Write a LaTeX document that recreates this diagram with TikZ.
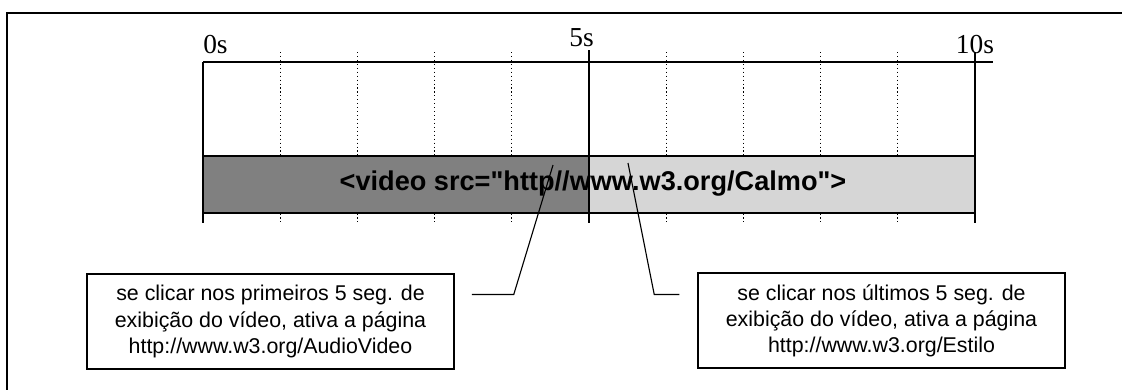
\documentclass[tikz,border=0pt]{standalone}
\usepackage{fontspec}
\setmainfont{Liberation Serif}
\setsansfont{Liberation Sans}[Ligatures=TeXOff]
\usetikzlibrary{positioning,calc}
\definecolor{escuro}{gray}{0.5}
\definecolor{claro}{gray}{0.84}

\begin{document}
\begin{tikzpicture}[x=0.025cm, y=-0.025cm,
    rotulo/.style={font=\fontsize{19.5}{21}\selectfont, inner sep=0pt},
    caixa/.style={draw, line width=1pt, minimum width=9.175cm, minimum height=2.375cm,
                  align=center, font=\sffamily\fontsize{15.2}{18.6}\selectfont},
    grade/.style={dotted, line width=0.8pt},
    marco/.style={line width=1pt},
    chamada/.style={line width=0.8pt}]
  \useasboundingbox (0,0) rectangle (1122,390);
  \draw[line width=1.3pt] (1122,13) -- (7,13) -- (7,390);
  \foreach \k in {1,2,3,4,6,7,8,9} \draw[grade] ({203+77.2*\k},52) -- ({203+77.2*\k},223);
  \fill[escuro] (203,156) rectangle (589,213);
  \fill[claro] (589,156) rectangle (975,213);
  \draw[marco] (203,62) -- (993,62);
  \draw[marco] (203,156) -- (975,156);
  \draw[marco] (203,213) -- (975,213);
  \draw[marco] (203,62) -- (203,223);
  \draw[marco] (589,50) -- (589,223);
  \draw[marco] (975,52) -- (975,223);
  \node[rotulo, anchor=base west] (t0) at (203,53) {0s};
  \node[rotulo, anchor=base east] (t5) at (594,46) {5s};
  \node[rotulo, anchor=base] (t10) at (975,53) {10s};
  \node[font=\sffamily\bfseries\fontsize{19.3}{21}\selectfont, inner sep=0pt] (video) at (593,184)
    {<video src="http//www.w3.org/Calmo">};
  \node[caixa] (inicio) at (270.5,321.5) {se clicar nos primeiros 5 seg. de\\exibição do vídeo, ativa a página\\http://www.w3.org/AudioVideo};
  \node[caixa] (fim) at (881.5,320.5) {se clicar nos últimos 5 seg. de\\exibição do vídeo, ativa a página\\http://www.w3.org/Estilo};
  \coordinate (alvoA) at (553,165);
  \coordinate (alvoB) at (628,163);
  \draw[chamada] ($(inicio.east)+(17,-27)$) -- +(42,0) -- (alvoA);
  \draw[chamada] ($(fim.west)+(-18,-26)$) -- +(-25,0) -- (alvoB);
\end{tikzpicture}
\end{document}
